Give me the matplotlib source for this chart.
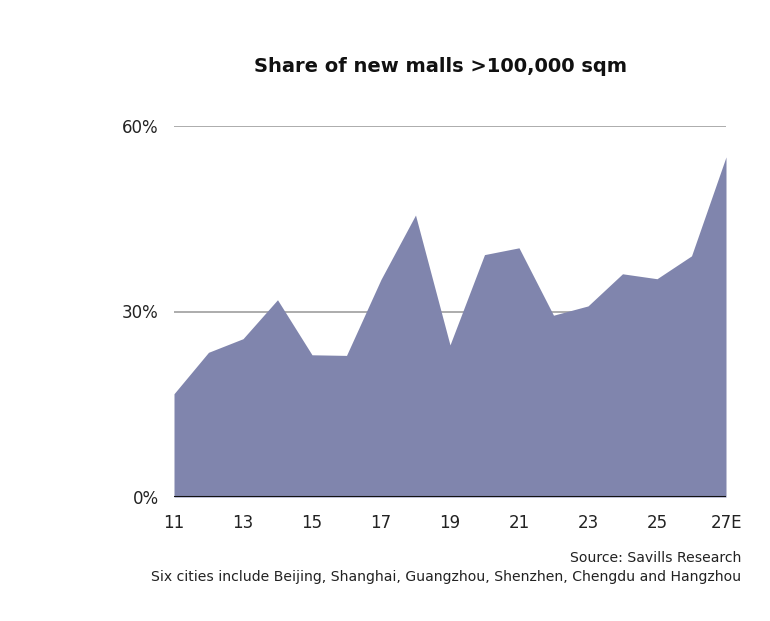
import matplotlib
matplotlib.use("Agg")
import matplotlib.pyplot as plt
import numpy as np

years = ["11", "12", "13", "14", "15", "16", "17", "18", "19", "20",
         "21", "22", "23", "24", "25", "26", "27E"]
share = [16.7, 23.4, 25.6, 31.9, 23.0, 22.9, 35.2, 45.6, 24.6, 39.2,
         40.3, 29.4, 30.9, 36.1, 35.3, 39.0, 55.0]
yticks = [0, 30, 60]
ytick_labels = ["0%", "30%", "60%"]

plt.rcParams['font.family'] = ['DejaVu Sans']

W, H = 770, 621
fig = plt.figure(figsize=(W / 100, H / 100), dpi=100)
ax = fig.add_axes([174 / W, (H - 497) / H, (726 - 174) / W, (497 - 126) / H])

x = np.arange(len(years))
ax.fill_between(x, 0, share, color="#8085ad", linewidth=0, zorder=2)
ax.set_xlim(0, len(years) - 1)
ax.set_ylim(0, 60)

for v in yticks[1:]:
    ax.axhline(v, color="#9e9e9e", linewidth=1.2, zorder=1)
ax.axhline(0, color="#111111", linewidth=2.2, zorder=3)

for s in ax.spines.values():
    s.set_visible(False)
ax.set_yticks(yticks)
ax.set_yticklabels(ytick_labels, fontsize=12, color="#222222")
ax.set_xticks(x[::2])
ax.set_xticklabels(years[::2], fontsize=12, color="#222222")
ax.tick_params(length=0)
ax.tick_params(axis="y", pad=11)
ax.tick_params(axis="x", pad=12)

fig.text(440 / W, 1 - 67 / H, "Share of new malls >100,000 sqm", ha="center", va="center",
         fontsize=14, fontweight="bold", color="#111111")
fig.text(741 / W, 1 - 558 / H, "Source: Savills Research", ha="right", va="center",
         fontsize=10.1, color="#222222")
fig.text(741 / W, 1 - 577 / H,
         "Six cities include Beijing, Shanghai, Guangzhou, Shenzhen, Chengdu and Hangzhou",
         ha="right", va="center", fontsize=10.1, color="#222222")

fig.savefig("out.png", dpi=100, facecolor="white")
